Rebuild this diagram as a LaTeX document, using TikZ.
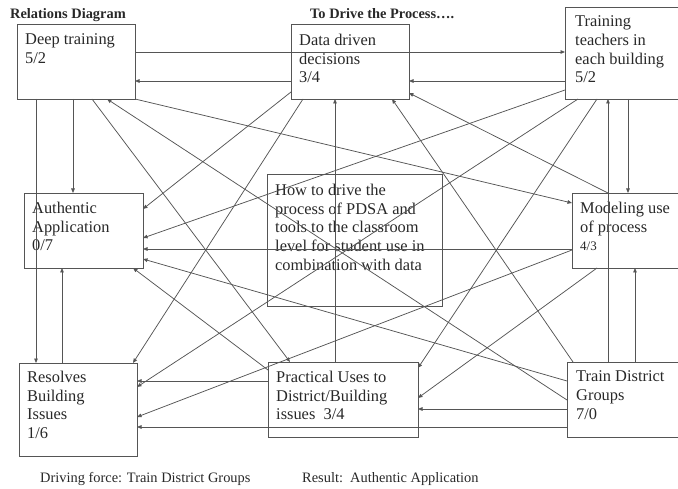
\documentclass[tikz,border=0pt]{standalone}
\usepackage{fontspec}
\setmainfont{Liberation Serif}
\usetikzlibrary{arrows.meta}
\definecolor{ink}{RGB}{40,40,40}
\definecolor{rule}{RGB}{85,85,85}

\begin{document}
\begin{tikzpicture}[x=1pt,y=-1pt,
  box/.style={draw=rule,line width=0.9pt,anchor=north west,inner sep=0pt,outer sep=0pt},
  lbl/.style={anchor=north west,inner sep=0pt,align=left,text=ink,
              font=\fontsize{16.4}{18.7}\selectfont},
  head/.style={anchor=base west,inner sep=0pt,text=ink,font=\fontsize{14.4}{17}\selectfont\bfseries},
  foot/.style={anchor=base west,inner sep=0pt,text=ink,font=\fontsize{14.4}{17}\selectfont},
  arr/.style={draw=rule,line width=0.75pt,-{Triangle[length=4.5pt,width=3.6pt]}}]
\useasboundingbox (0,0) rectangle (678,489);
\clip (0,0) rectangle (678,489);

% boxes (pixel grid, y downwards)
\node[box,minimum width=118pt,minimum height=75pt] (D)  at (17,24)  {};
\node[box,minimum width=118pt,minimum height=75pt] (DD) at (291,24) {};
\node[box,minimum width=115pt,minimum height=92pt] (TT) at (565,7)  {};
\node[box,minimum width=119pt,minimum height=75pt] (AA) at (24,193) {};
\node[box,minimum width=175pt,minimum height=132pt] (C) at (267,174) {};
\node[box,minimum width=108pt,minimum height=75pt] (M)  at (572,193) {};
\node[box,minimum width=118pt,minimum height=93pt] (R)  at (19,363) {};
\node[box,minimum width=150pt,minimum height=75pt] (P)  at (268,362) {};
\node[box,minimum width=113pt,minimum height=75pt] (T)  at (567,362) {};

% box texts
\node[lbl] (tD)  at (25,33.8)   {Deep training\\5/2};
\node[lbl] (tDD) at (299,33.8)  {Data driven\\decisions\\3/4};
\node[lbl] (tTT) at (575,15.8)  {Training\\teachers in\\each building\\5/2};
\node[lbl] (tAA) at (32,201.8)  {Authentic\\Application\\0/7};
\node[lbl] (tC)  at (275,183.8) {How to drive the\\process of PDSA and\\tools to the classroom\\level for student use in\\combination with data};
\node[lbl] (tM)  at (580,201.8) {Modeling use\\of process\\{\fontsize{13}{15}\selectfont 4/3}};
\node[lbl] (tR)  at (27,370.8)  {Resolves\\Building\\Issues\\1/6};
\node[lbl] (tP)  at (276,370.8) {Practical Uses to\\District/Building\\issues\ \ 3/4};
\node[lbl] (tT)  at (576,370.8) {Train District\\Groups\\7/0};

% headings and footer
\node[head] (h1) at (10,19)  {Relations Diagram};
\node[head] (h2) at (310,19) {To Drive the Process….};
\node[foot] (f1) at (40,482)  {Driving force: Train District Groups};
\node[foot] (f2) at (302,482) {Result:\ \ Authentic Application};

% Deep training
\draw[arr] ([shift={(118,28)}]D.north west) -- ([shift={(0,45)}]TT.north west);
\draw[arr] ([shift={(56,75)}]D.north west) -- ([shift={(49,0)}]AA.north west);
\draw[arr] ([shift={(19,75)}]D.north west) -- ([shift={(17,0)}]R.north west);
\draw[arr] ([shift={(118,75)}]D.north west) -- ([shift={(0,10)}]M.north west);
\draw[arr] ([shift={(75,75)}]D.north west) -- ([shift={(22,0)}]P.north west);
% Data driven decisions
\draw[arr] ([shift={(0,57)}]DD.north west) -- ([shift={(118,57)}]D.north west);
\draw[arr] ([shift={(0,68)}]DD.north west) -- ([shift={(119,16)}]AA.north west);
\draw[arr] ([shift={(12,75)}]DD.north west) -- ([shift={(114,0)}]R.north west);
% Training teachers
\draw[arr] ([shift={(0,74)}]TT.north west) -- ([shift={(118,57)}]DD.north west);
\draw[arr] ([shift={(63,92)}]TT.north west) -- ([shift={(56,0)}]M.north west);
\draw[arr] ([shift={(0,83)}]TT.north west) -- ([shift={(119,45)}]AA.north west);
\draw[arr] ([shift={(13,92)}]TT.north west) -- ([shift={(118,24)}]R.north west);
\draw[arr] ([shift={(32,92)}]TT.north west) -- ([shift={(150,6)}]P.north west);
% Modeling use of process
\draw[arr] ([shift={(36,0)}]M.north west) -- ([shift={(118,69)}]DD.north west);
\draw[arr] ([shift={(0,56)}]M.north west) -- ([shift={(119,56)}]AA.north west);
\draw[arr] ([shift={(25,75)}]M.north west) -- ([shift={(150,36)}]P.north west);
\draw[arr] ([shift={(0,57)}]M.north west) -- ([shift={(118,54)}]R.north west);
% Resolves building issues
\draw[arr] ([shift={(43,0)}]R.north west) -- ([shift={(38,75)}]AA.north west);
% Practical uses
\draw[arr] ([shift={(67,0)}]P.north west) -- ([shift={(44,75)}]DD.north west);
\draw[arr] ([shift={(0,19)}]P.north west) -- ([shift={(118,18)}]R.north west);
\draw[arr] ([shift={(0,8)}]P.north west) -- ([shift={(109,75)}]AA.north west);
% Train district groups
\draw[arr] ([shift={(0,38)}]T.north west) -- ([shift={(90,75)}]D.north west);
\draw[arr] ([shift={(6,0)}]T.north west) -- ([shift={(101,75)}]DD.north west);
\draw[arr] ([shift={(41,0)}]T.north west) -- ([shift={(43,92)}]TT.north west);
\draw[arr] ([shift={(68,0)}]T.north west) -- ([shift={(63,75)}]M.north west);
\draw[arr] ([shift={(0,19)}]T.north west) -- ([shift={(119,66)}]AA.north west);
\draw[arr] ([shift={(0,47)}]T.north west) -- ([shift={(150,47)}]P.north west);
\draw[arr] ([shift={(0,65)}]T.north west) -- ([shift={(118,64)}]R.north west);
\end{tikzpicture}
\end{document}
